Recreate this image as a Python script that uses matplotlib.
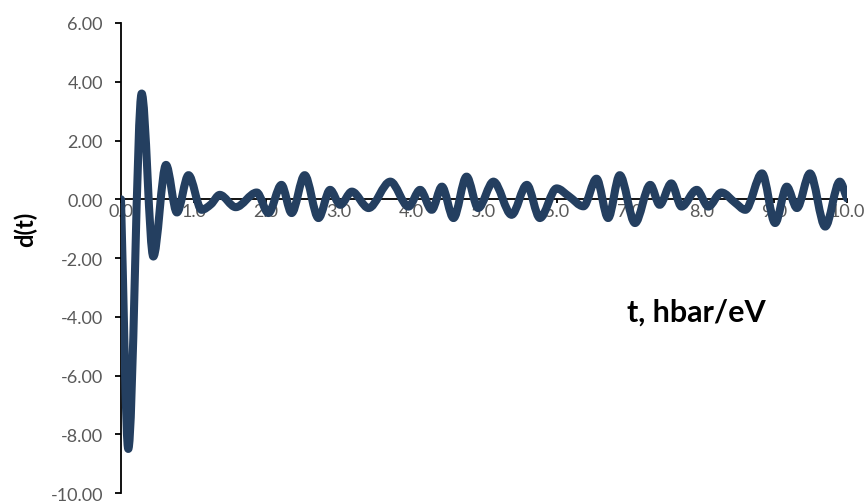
import matplotlib
matplotlib.use('Agg')
import matplotlib.pyplot as plt
from matplotlib.patches import PathPatch
from matplotlib.path import Path
from matplotlib.ticker import FormatStrFormatter, MultipleLocator

# dipole response d(t) versus time (hbar/eV)
t_vals = [0.00, 0.10, 0.285, 0.445, 0.62, 0.77, 0.93, 1.11, 1.24, 1.36,
          1.58, 1.87, 2.03, 2.21, 2.35, 2.53, 2.72, 2.88, 3.02, 3.18,
          3.41, 3.71, 3.96, 4.12, 4.28, 4.42, 4.58, 4.76, 4.92, 5.13,
          5.38, 5.59, 5.77, 6.00, 6.17, 6.37, 6.55, 6.71, 6.87, 7.08,
          7.29, 7.42, 7.58, 7.72, 7.93, 8.09, 8.27, 8.46, 8.60, 8.83,
          9.01, 9.17, 9.31, 9.49, 9.70, 9.90, 10.00]
d_vals = [0.00, -8.50, 3.60, -1.95, 1.17, -0.45, 0.82, -0.36, -0.17, 0.15,
          -0.27, 0.23, -0.47, 0.49, -0.47, 0.82, -0.64, 0.32, -0.19, 0.26,
          -0.30, 0.60, -0.25, 0.32, -0.36, 0.43, -0.64, 0.77, -0.30, 0.60,
          -0.53, 0.49, -0.64, 0.37, 0.10, -0.24, 0.70, -0.64, 0.82, -0.81,
          0.49, -0.19, 0.54, -0.25, 0.32, -0.25, 0.23, -0.12, -0.36, 0.88,
          -0.81, 0.43, -0.30, 0.88, -0.93, 0.60, 0.03]


def smooth_path(xs, ys):
    # cubic bezier through every point; flat tangent at turning points so
    # the peaks stay at their values
    n = len(xs)
    slopes = []
    for i in range(n):
        lo, hi = max(i - 1, 0), min(i + 1, n - 1)
        if 0 < i < n - 1 and (ys[i] - ys[lo]) * (ys[hi] - ys[i]) <= 0:
            slopes.append(0.0)
        else:
            slopes.append((ys[hi] - ys[lo]) / (xs[hi] - xs[lo]))
    verts = [(xs[0], ys[0])]
    codes = [Path.MOVETO]
    for i in range(n - 1):
        h = (xs[i + 1] - xs[i]) / 3
        verts += [(xs[i] + h, ys[i] + slopes[i] * h),
                  (xs[i + 1] - h, ys[i + 1] - slopes[i + 1] * h),
                  (xs[i + 1], ys[i + 1])]
        codes += [Path.CURVE4] * 3
    return Path(verts, codes)


plt.rcParams['font.family'] = ['Lato', 'DejaVu Sans']
plt.rcParams['axes.unicode_minus'] = False

fig = plt.figure(figsize=(8.68, 5.02), dpi=100)
ax = fig.add_axes([0.1394, 0.0159, 0.8364, 0.9363])

ax.add_patch(PathPatch(smooth_path(t_vals, d_vals), facecolor='none',
                       edgecolor='#243f60', linewidth=5.8, joinstyle='round',
                       capstyle='round', zorder=3))

ax.set_xlim(0, 10)
ax.set_ylim(-10, 6)
ax.xaxis.set_major_locator(MultipleLocator(1))
ax.yaxis.set_major_locator(MultipleLocator(2))
ax.xaxis.set_major_formatter(FormatStrFormatter('%.1f'))
ax.yaxis.set_major_formatter(FormatStrFormatter('%.2f'))

ax.spines['top'].set_visible(False)
ax.spines['right'].set_visible(False)
ax.spines['bottom'].set_position(('data', 0))
for side in ('left', 'bottom'):
    ax.spines[side].set_color('black')
    ax.spines[side].set_linewidth(1.3)

ax.tick_params(axis='y', direction='out', length=4, width=1.3, pad=9,
               labelsize=13, labelcolor='#595959')
ax.tick_params(axis='x', direction='out', length=3, width=1.3, pad=0,
               labelsize=13, labelcolor='#595959')

ax.text(-0.131, 0.562, 'd(t)', transform=ax.transAxes, rotation=90,
        ha='center', va='center', fontsize=17, fontweight='bold')
ax.text(0.792, 0.385, 't, hbar/eV', transform=ax.transAxes,
        ha='center', va='center', fontsize=22, fontweight='bold')

fig.savefig('out.png', dpi=100)
